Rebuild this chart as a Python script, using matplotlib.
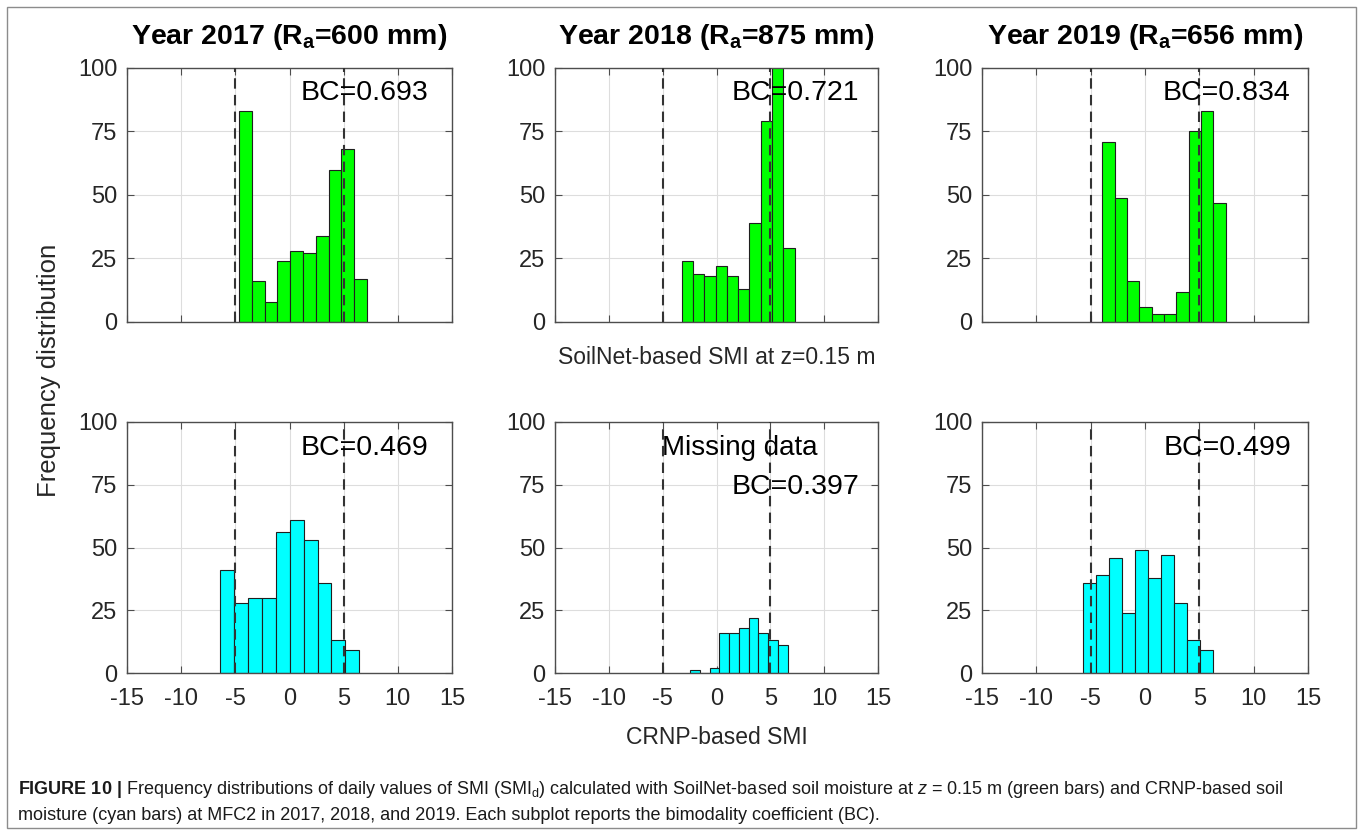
import numpy as np
import matplotlib
matplotlib.use('Agg')
import matplotlib.pyplot as plt
from matplotlib.patches import Rectangle

plt.rcParams['font.family'] = ['Liberation Sans', 'DejaVu Sans']
plt.rcParams['mathtext.fontset'] = 'custom'
plt.rcParams['mathtext.rm'] = 'Liberation Sans'
plt.rcParams['mathtext.it'] = 'Liberation Sans:italic'
plt.rcParams['mathtext.bf'] = 'Liberation Sans:bold'
plt.rcParams['axes.unicode_minus'] = False

# --- data ---
years = ['2017', '2018', '2019']
rain_mm = [600, 875, 656]

# SoilNet-based SMI at z=0.15 m: first bin edge, bin width, counts per bin
soilnet_start = [-4.66, -3.24, -3.94]
soilnet_width = [1.18, 1.05, 1.136]
soilnet_counts = [
    [83, 16, 8, 24, 28, 27, 34, 60, 68, 17],
    [24, 19, 18, 22, 18, 13, 39, 79, 106, 29],
    [71, 49, 16, 6, 3, 3, 12, 75, 83, 47],
]
soilnet_bc = [0.693, 0.721, 0.834]

# CRNP-based SMI
crnp_start = [-6.42, -2.47, -5.68]
crnp_width = [1.287, 0.91, 1.19]
crnp_counts = [
    [41, 28, 30, 30, 56, 61, 53, 36, 13, 9],
    [1, 0, 2, 16, 16, 18, 22, 16, 13, 11],
    [36, 39, 46, 24, 49, 38, 47, 28, 13, 9],
]
crnp_bc = [0.469, 0.397, 0.499]

smi_limits = [-5, 5]   # dry / wet thresholds (dashed lines)

# --- layout (pixels) ---
W, H = 1363, 835
col_px = [(127, 452), (555, 878), (982, 1308)]
row_px = [(68, 322), (422, 673)]
bc_pos_top = [(1.0, 90), (1.36, 90), (1.64, 90)]
bc_pos_bot = [(1.0, 89.5), (1.36, 74), (1.72, 89.5)]

fig = plt.figure(figsize=(W / 100, H / 100), dpi=100)


def axes_rect(c, r):
    x0, x1 = col_px[c]
    y0, y1 = row_px[r]
    return [x0 / W, 1 - y1 / H, (x1 - x0) / W, (y1 - y0) / H]


def style_axes(ax, bottom_labels):
    ax.set_xlim(-15, 15)
    ax.set_ylim(0, 100)
    ax.set_xticks(np.arange(-15, 16, 5))
    ax.set_yticks([0, 25, 50, 75, 100])
    ax.grid(True, color='#dddddd', lw=0.8)
    ax.set_axisbelow(True)
    ax.tick_params(direction='in', top=True, right=True, length=5, width=0.8,
                   labelsize=17, color='#4d4d4d', labelcolor='#262626',
                   labelbottom=bottom_labels)
    ax.tick_params(axis='x', pad=11)
    ax.tick_params(axis='y', pad=7)
    for s in ax.spines.values():
        s.set_color('#4d4d4d')
        s.set_linewidth(1.0)
    for v in smi_limits:
        ax.axvline(v, color='#333333', ls=(0, (5, 3)), lw=1.5, zorder=3)


def draw_hist(ax, start, width, counts, color):
    edges = start + width * np.arange(len(counts))
    ax.bar(edges, counts, width=width, align='edge', color=color,
           edgecolor='#1f1f1f', lw=0.8, zorder=2)


for i in range(3):
    ax = fig.add_axes(axes_rect(i, 0))
    draw_hist(ax, soilnet_start[i], soilnet_width[i], soilnet_counts[i], '#00ff00')
    style_axes(ax, False)
    ax.set_title('Year %s (R' % years[i] + r'$_{\mathbf{a}}$' + '=%d mm)' % rain_mm[i],
                 fontsize=20.5, fontweight='bold', pad=17)
    x, y = bc_pos_top[i]
    ax.text(x, y, 'BC=%.3f' % soilnet_bc[i], fontsize=20.5, va='center', zorder=5)

    ax = fig.add_axes(axes_rect(i, 1))
    draw_hist(ax, crnp_start[i], crnp_width[i], crnp_counts[i], '#00ffff')
    style_axes(ax, True)
    x, y = bc_pos_bot[i]
    ax.text(x, y, 'BC=%.3f' % crnp_bc[i], fontsize=20.5, va='center', zorder=5)
    if i == 1:
        ax.text(-5.1, 89.5, 'Missing data', fontsize=20, va='center', zorder=5)

fig.text(49 / W, 1 - 370 / H, 'Frequency distribution', rotation=90, fontsize=18.5,
         ha='center', va='center', color='#262626')
fig.text(717 / W, 1 - 357 / H, 'SoilNet-based SMI at z=0.15 m', fontsize=16.5,
         ha='center', va='center', color='#262626')
fig.text(717 / W, 1 - 738 / H, 'CRNP-based SMI', fontsize=16.5,
         ha='center', va='center', color='#262626')

caption1 = (r'$\mathbf{FIGURE\ 10\ |}$ Frequency distributions of daily values of SMI (SMI$_\mathrm{d}$) '
            r'calculated with SoilNet-based soil moisture at $z$ = 0.15 m (green bars) and CRNP-based soil')
caption2 = 'moisture (cyan bars) at MFC2 in 2017, 2018, and 2019. Each subplot reports the bimodality coefficient (BC).'
fig.text(18 / W, 1 - 790 / H, caption1, fontsize=13, va='center', color='#1a1a1a')
fig.text(18 / W, 1 - 815 / H, caption2, fontsize=13, va='center', color='#1a1a1a')

fig.add_artist(Rectangle((7 / W, 7 / H), 1 - 14 / W, 1 - 14 / H, transform=fig.transFigure,
                         fill=False, edgecolor='#8c8c8c', lw=1.0))

fig.savefig('out.png', dpi=100)
